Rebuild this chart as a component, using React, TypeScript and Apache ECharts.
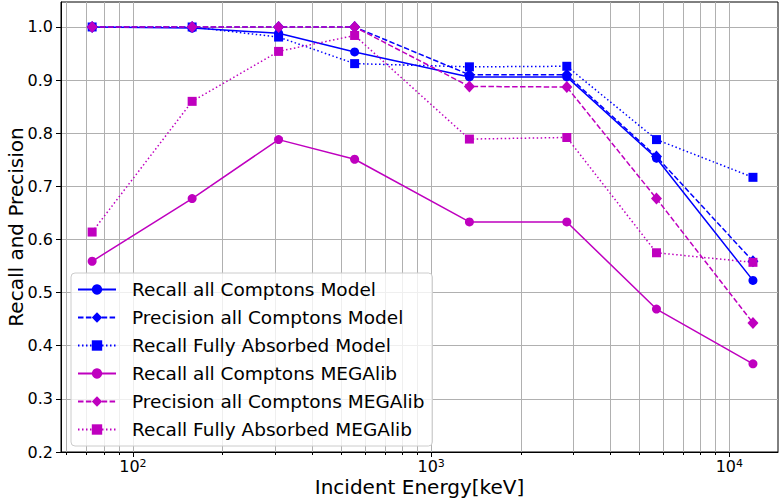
import React, { useEffect, useRef } from "react";
import * as echarts from "echarts";

const energies = [73, 158, 308, 554, 1344, 2851, 5697, 12000];
const recallModel = [1.0, 0.998, 0.988, 0.953, 0.906, 0.906, 0.753, 0.523];
const precisionModel = [1.0, 1.0, 1.0, 1.0, 0.91, 0.91, 0.756, 0.559];
const fullyModel = [1.0, 1.0, 0.981, 0.931, 0.925, 0.926, 0.788, 0.717];
const recallMega = [0.559, 0.677, 0.788, 0.751, 0.633, 0.633, 0.469, 0.366];
const precisionMega = [1.0, 1.0, 1.0, 1.0, 0.888, 0.887, 0.677, 0.443];
const fullyMega = [0.614, 0.86, 0.954, 0.984, 0.789, 0.792, 0.575, 0.557];

const seriesNames = [
  "Recall all Comptons Model",
  "Precision all Comptons Model",
  "Recall Fully Absorbed Model",
  "Recall all Comptons MEGAlib",
  "Precision all Comptons MEGAlib",
  "Recall Fully Absorbed MEGAlib",
];

const yTicks = [0.2, 0.3, 0.4, 0.5, 0.6, 0.7, 0.8, 0.9, 1.0];
const xMajorTicks = [100, 1000, 10000];
const xMinorTicks = [60, 70, 80, 90, 200, 300, 400, 500, 600, 700, 800, 900, 2000, 3000, 4000, 5000, 6000, 7000, 8000, 9000];

const BLUE = "#0000ff";
const MAG = "#bf00bf";
const FONT = "DejaVu Sans";

export default function App() {
  const ref = useRef<HTMLDivElement>(null);
  useEffect(() => {
    if (!ref.current) return;
    const chart = echarts.init(ref.current, null, { renderer: "svg" });
    const solid = "solid";
    const dashed = [5.5, 2.4];
    const dotted = [1.5, 2.5];
    const mk = (
      name: string,
      vals: number[],
      color: string,
      dash: any,
      symbol: string,
      size: any
    ) => ({
      name,
      type: "line",
      data: energies.map((e, i) => [e, vals[i]]),
      symbol,
      symbolSize: size,
      showAllSymbol: true,
      lineStyle: { color, width: 1.5, type: dash },
      itemStyle: { color, borderWidth: 0 },
      emphasis: { disabled: true },
      z: 3,
    });
    chart.setOption({
      animation: false,
      textStyle: { fontFamily: FONT },
      grid: {
        left: 61,
        right: 1,
        top: 2,
        bottom: 48,
        outerBoundsMode: "none",
        containLabel: false,
        show: true,
        borderColor: "#000",
        borderWidth: 1,
        backgroundColor: "transparent",
      },
      legend: {
        orient: "vertical",
        left: 71,
        top: 273,
        data: seriesNames,
        itemWidth: 38,
        itemHeight: 13,
        itemGap: 9,
        padding: [7, 8, 7, 6],
        backgroundColor: "rgba(255,255,255,0.8)",
        borderColor: "#cccccc",
        borderWidth: 1,
        borderRadius: 4,
        textStyle: { fontSize: 18.5, color: "#000", fontFamily: FONT, padding: [0, 0, 0, 11] },
      },
      xAxis: [
        {
          type: "log",
          logBase: 10,
          min: 57.4,
          max: 14560,
          name: "Incident Energy[keV]",
          nameLocation: "middle",
          nameGap: 25,
          nameMoveOverlap: false,
          nameTextStyle: { fontSize: 20, color: "#000", fontFamily: FONT },
          axisLine: { show: true, onZero: false, lineStyle: { color: "#000", width: 1 } },
          axisTick: { show: true, length: 5, customValues: xMajorTicks, lineStyle: { color: "#000" } },
          axisLabel: {
            customValues: xMajorTicks,
            margin: 6,
            color: "#000",
            fontFamily: FONT,
            lineHeight: 16,
            formatter: (v: number) => "10{sup|" + Math.round(Math.log10(v)) + "}",
            rich: {
              sup: { fontSize: 11, lineHeight: 16, verticalAlign: "top", color: "#000", fontFamily: FONT },
            },
            fontSize: 16,
          },
          splitLine: { show: true, lineStyle: { color: "#b0b0b0", width: 1 } },
        },
        {
          type: "log",
          logBase: 10,
          min: 57.4,
          max: 14560,
          position: "bottom",
          axisLine: { show: false },
          axisTick: { show: true, length: 3, customValues: xMinorTicks, lineStyle: { color: "#000" } },
          axisLabel: { show: false },
          splitLine: { show: true, lineStyle: { color: "#b0b0b0", width: 1 } },
        },
      ],
      yAxis: {
        type: "value",
        min: 0.2,
        max: 1.047,
        name: "Recall and Precision",
        nameLocation: "middle",
        nameGap: 35,
        nameMoveOverlap: false,
        nameTextStyle: { fontSize: 20, color: "#000", fontFamily: FONT },
        axisLine: { show: true, lineStyle: { color: "#000", width: 1 } },
        axisTick: { show: true, length: 5, customValues: yTicks, lineStyle: { color: "#000" } },
        axisLabel: {
          customValues: yTicks,
          margin: 8,
          fontSize: 16,
          color: "#000",
          fontFamily: FONT,
          formatter: (v: number) => v.toFixed(1),
        },
        splitLine: { show: true, lineStyle: { color: "#b0b0b0", width: 1 } },
      },
      series: [
        mk(seriesNames[0], recallModel, BLUE, solid, "circle", 9),
        mk(seriesNames[1], precisionModel, BLUE, dashed, "diamond", [11, 12]),
        mk(seriesNames[2], fullyModel, BLUE, dotted, "rect", 9),
        mk(seriesNames[3], recallMega, MAG, solid, "circle", 9),
        mk(seriesNames[4], precisionMega, MAG, dashed, "diamond", [11, 12]),
        mk(seriesNames[5], fullyMega, MAG, dotted, "rect", 9),
      ],
    });
    return () => chart.dispose();
  }, []);
  return (
    <div
      ref={ref}
      style={{ position: "fixed", left: 0, top: 0, width: 779, height: 500, background: "#fff" }}
    />
  );
}
